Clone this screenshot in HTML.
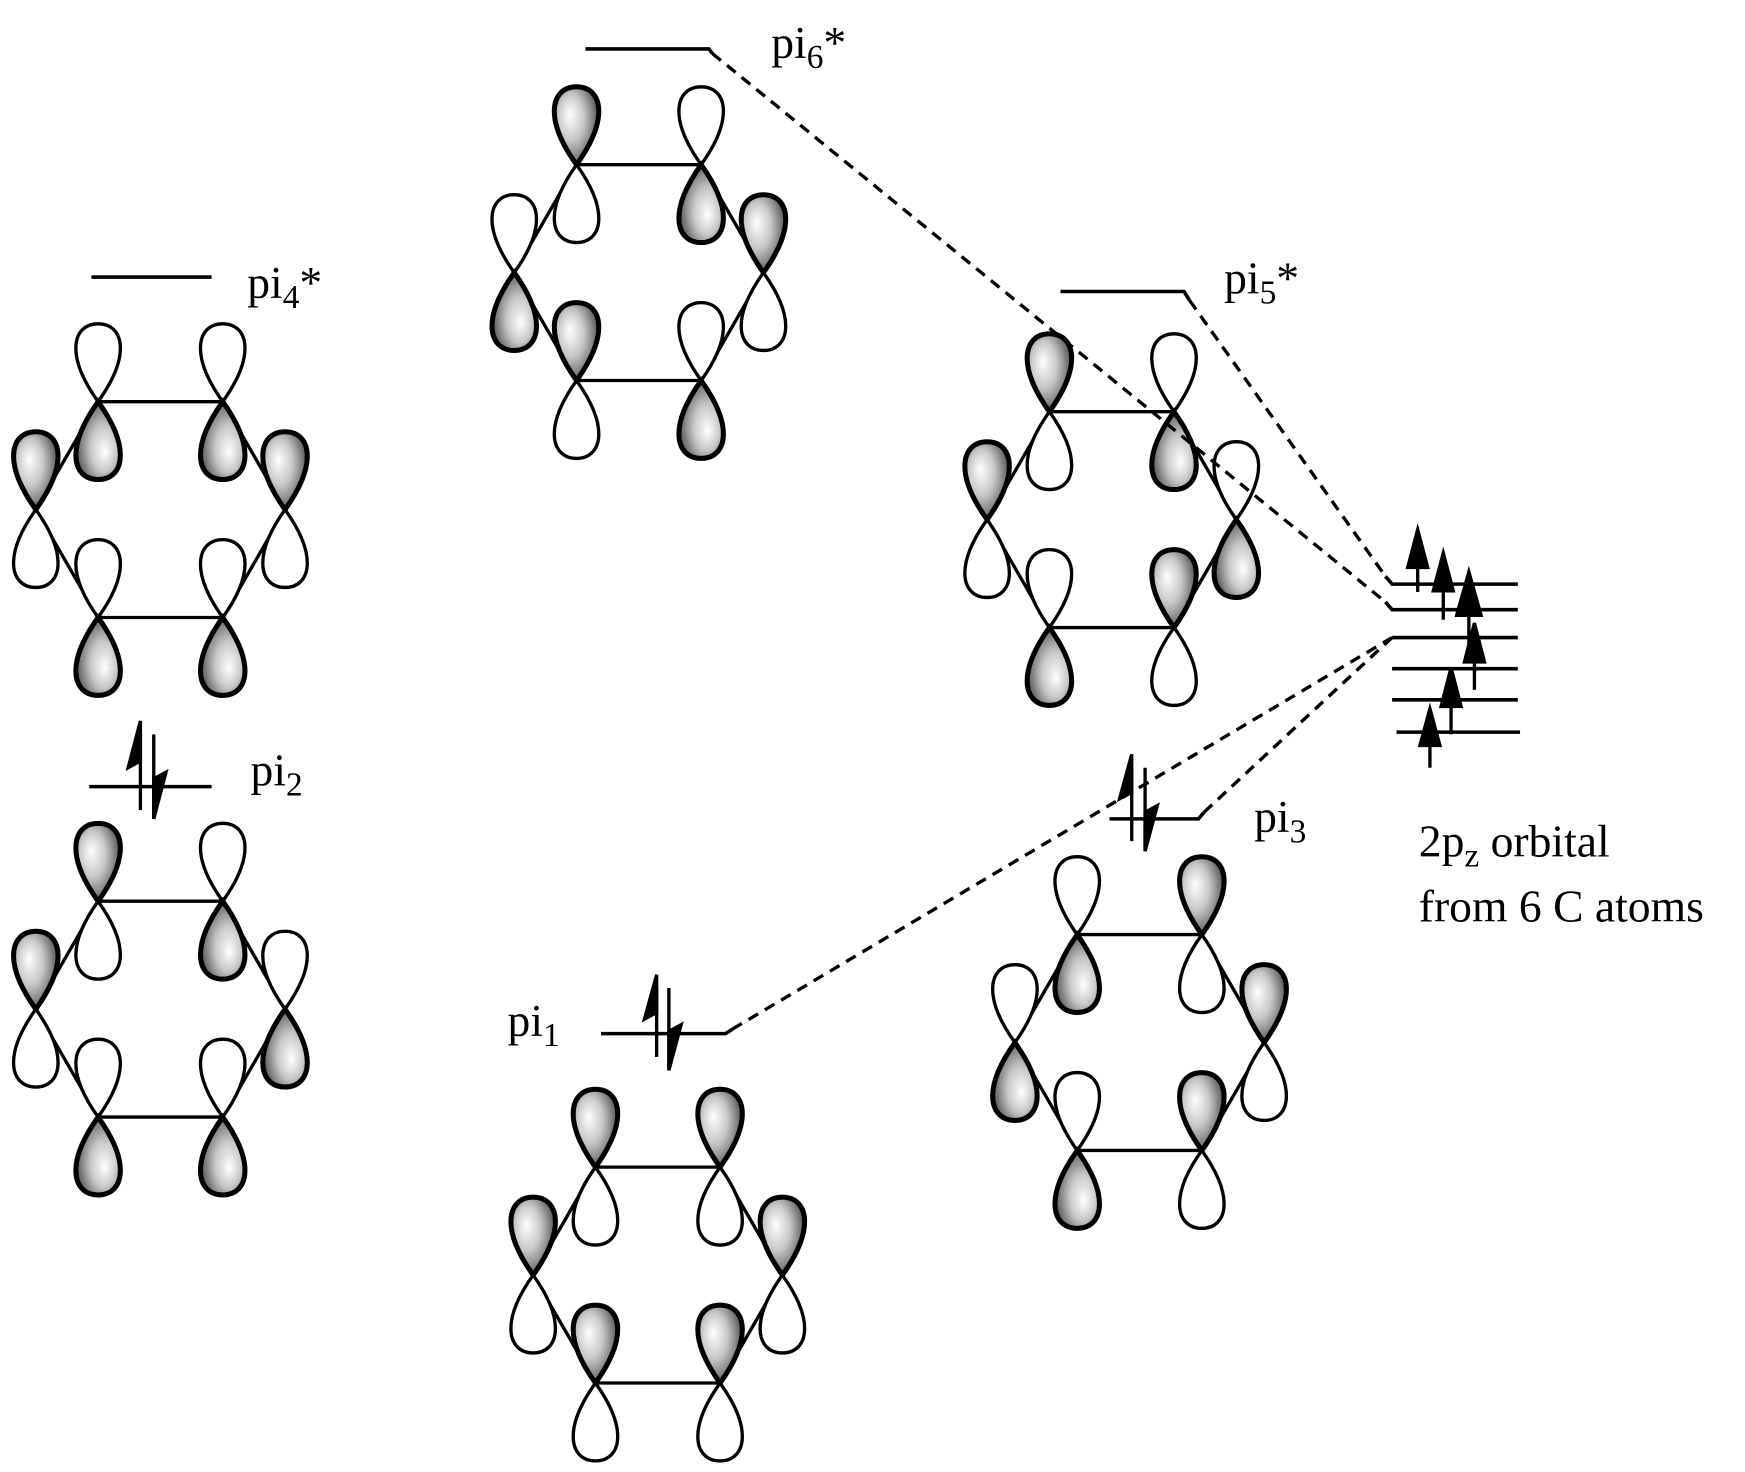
<!DOCTYPE html>
<html><head><meta charset="utf-8"><style>
html,body{margin:0;padding:0;background:#fff;}
svg{display:block;}
text{font-family:"Liberation Serif","Times New Roman",serif;font-size:41px;fill:#000;}
</style></head><body>
<svg width="1745" height="1472" viewBox="0 0 1568 1323" xmlns="http://www.w3.org/2000/svg">
<defs>
<radialGradient id="g" cx="0.4" cy="0.45" r="0.65" fx="0.35" fy="0.35">
<stop offset="0" stop-color="#fff"/><stop offset="0.45" stop-color="#c8c8c8"/><stop offset="0.85" stop-color="#6a6a6a"/><stop offset="1" stop-color="#333"/>
</radialGradient>
<path id="lobe" d="M0,0 C-10,-14 -20,-32 -20,-48 C-20,-62 -12,-70 0,-70 C12,-70 20,-62 20,-48 C20,-32 10,-14 0,0Z"/>
<use id="S" href="#lobe" fill="url(#g)" stroke="#000" stroke-width="4.5"/>
<use id="W" href="#lobe" fill="#fff" stroke="#000" stroke-width="3"/>
<g id="bonds" stroke="#000" stroke-width="3" fill="none">
<path d="M-56,-97 H56 M-56,97 H56 M-56,-97 L-112,0 L-56,97 M56,-97 L112,0 L56,97"/>
</g>
</defs>

<g transform="translate(144,458)">
<use href="#bonds"/>
<use href="#W" transform="translate(-56,-97)"/><use href="#S" transform="translate(-56,-97) rotate(180)"/>
<use href="#W" transform="translate(56,-97)"/><use href="#S" transform="translate(56,-97) rotate(180)"/>
<use href="#S" transform="translate(-112,0)"/><use href="#W" transform="translate(-112,0) rotate(180)"/>
<use href="#S" transform="translate(112,0)"/><use href="#W" transform="translate(112,0) rotate(180)"/>
<use href="#W" transform="translate(-56,97)"/><use href="#S" transform="translate(-56,97) rotate(180)"/>
<use href="#W" transform="translate(56,97)"/><use href="#S" transform="translate(56,97) rotate(180)"/>
</g>

<g transform="translate(144,907)">
<use href="#bonds"/>
<use href="#S" transform="translate(-56,-97)"/><use href="#W" transform="translate(-56,-97) rotate(180)"/>
<use href="#W" transform="translate(56,-97)"/><use href="#S" transform="translate(56,-97) rotate(180)"/>
<use href="#S" transform="translate(-112,0)"/><use href="#W" transform="translate(-112,0) rotate(180)"/>
<use href="#W" transform="translate(112,0)"/><use href="#S" transform="translate(112,0) rotate(180)"/>
<use href="#W" transform="translate(-56,97)"/><use href="#S" transform="translate(-56,97) rotate(180)"/>
<use href="#W" transform="translate(56,97)"/><use href="#S" transform="translate(56,97) rotate(180)"/>
</g>

<g transform="translate(574,245)">
<use href="#bonds"/>
<use href="#S" transform="translate(-56,-97)"/><use href="#W" transform="translate(-56,-97) rotate(180)"/>
<use href="#W" transform="translate(56,-97)"/><use href="#S" transform="translate(56,-97) rotate(180)"/>
<use href="#W" transform="translate(-112,0)"/><use href="#S" transform="translate(-112,0) rotate(180)"/>
<use href="#S" transform="translate(112,0)"/><use href="#W" transform="translate(112,0) rotate(180)"/>
<use href="#S" transform="translate(-56,97)"/><use href="#W" transform="translate(-56,97) rotate(180)"/>
<use href="#W" transform="translate(56,97)"/><use href="#S" transform="translate(56,97) rotate(180)"/>
</g>

<g transform="translate(999,467)">
<use href="#bonds"/>
<use href="#S" transform="translate(-56,-97)"/><use href="#W" transform="translate(-56,-97) rotate(180)"/>
<use href="#W" transform="translate(56,-97)"/><use href="#S" transform="translate(56,-97) rotate(180)"/>
<use href="#S" transform="translate(-112,0)"/><use href="#W" transform="translate(-112,0) rotate(180)"/>
<use href="#W" transform="translate(112,0)"/><use href="#S" transform="translate(112,0) rotate(180)"/>
<use href="#W" transform="translate(-56,97)"/><use href="#S" transform="translate(-56,97) rotate(180)"/>
<use href="#S" transform="translate(56,97)"/><use href="#W" transform="translate(56,97) rotate(180)"/>
</g>

<g transform="translate(1024,937)">
<use href="#bonds"/>
<use href="#W" transform="translate(-56,-97)"/><use href="#S" transform="translate(-56,-97) rotate(180)"/>
<use href="#S" transform="translate(56,-97)"/><use href="#W" transform="translate(56,-97) rotate(180)"/>
<use href="#W" transform="translate(-112,0)"/><use href="#S" transform="translate(-112,0) rotate(180)"/>
<use href="#S" transform="translate(112,0)"/><use href="#W" transform="translate(112,0) rotate(180)"/>
<use href="#W" transform="translate(-56,97)"/><use href="#S" transform="translate(-56,97) rotate(180)"/>
<use href="#S" transform="translate(56,97)"/><use href="#W" transform="translate(56,97) rotate(180)"/>
</g>

<g transform="translate(591,1146)">
<use href="#bonds"/>
<use href="#S" transform="translate(-56,-97)"/><use href="#W" transform="translate(-56,-97) rotate(180)"/>
<use href="#S" transform="translate(56,-97)"/><use href="#W" transform="translate(56,-97) rotate(180)"/>
<use href="#S" transform="translate(-112,0)"/><use href="#W" transform="translate(-112,0) rotate(180)"/>
<use href="#S" transform="translate(112,0)"/><use href="#W" transform="translate(112,0) rotate(180)"/>
<use href="#S" transform="translate(-56,97)"/><use href="#W" transform="translate(-56,97) rotate(180)"/>
<use href="#S" transform="translate(56,97)"/><use href="#W" transform="translate(56,97) rotate(180)"/>
</g>

<g stroke="#000" stroke-width="3.2" fill="none">
<path d="M82,249 H190"/>
<path d="M80,707 H190"/>
<path d="M526,44 H637 L640,48"/>
<path d="M953,262 H1064 L1069,270"/>
<path d="M997,736 H1077 L1082,730"/>
<path d="M540,929 H652 L658,925"/>
<path d="M1245,518 L1251,525 H1364 M1245,541 L1251,548 H1364 M1251,573 H1364 M1251,601 H1364 M1251,629 H1364 M1255,658 H1366"/>
</g>
<g stroke="#000" stroke-width="3" fill="none" stroke-dasharray="10,7">
<path d="M640,48 L1245,541"/>
<path d="M1069,270 L1245,518"/>
<path d="M1082,730 L1251,573"/>
<path d="M658,925 L1251,573"/>
</g>

<g stroke="#000" stroke-width="3" fill="#000">
<path d="M1274,532 V500" /><path d="M1274,476 L1265,510 L1283,510Z"/>
<path d="M1297,557 V520" /><path d="M1297,497 L1288,531 L1306,531Z"/>
<path d="M1320,590 V540" /><path d="M1320,514 L1309,553 L1331,553Z"/>
<path d="M1325,620 V580" /><path d="M1325,560 L1316,595 L1334,595Z"/>
<path d="M1304,660 V620" /><path d="M1304,600 L1295,635 L1313,635Z"/>
<path d="M1285,690 V655" /><path d="M1285,637 L1276,670 L1294,670Z"/>
</g>

<g stroke="#000" stroke-width="3" fill="#000">
<path d="M126,728 V660"/><path d="M126,648 L115,690 L126,684Z"/>
<path d="M138,660 V736"/><path d="M138,736 L149,694 L138,700Z"/>
<path d="M1017,756 V690"/><path d="M1017,678 L1006,718 L1017,712Z"/>
<path d="M1029,690 V765"/><path d="M1029,765 L1040,724 L1029,730Z"/>
<path d="M590,950 V888"/><path d="M590,876 L579,916 L590,910Z"/>
<path d="M601,888 V962"/><path d="M601,962 L612,921 L601,927Z"/>
</g>

<text x="222" y="268">pi<tspan dy="9" font-size="30">4</tspan><tspan dy="-9">*</tspan></text>
<text x="693" y="52">pi<tspan dy="9" font-size="30">6</tspan><tspan dy="-9">*</tspan></text>
<text x="1100" y="264">pi<tspan dy="9" font-size="30">5</tspan><tspan dy="-9">*</tspan></text>
<text x="225" y="706">pi<tspan dy="9" font-size="30">2</tspan></text>
<text x="1127" y="748">pi<tspan dy="9" font-size="30">3</tspan></text>
<text x="456" y="931">pi<tspan dy="9" font-size="30">1</tspan></text>
<text x="1275" y="770">2p<tspan dy="9" font-size="30">z</tspan><tspan dy="-9"> orbital</tspan></text>
<text x="1275" y="828">from 6 C atoms</text>
</svg>
</body></html>
